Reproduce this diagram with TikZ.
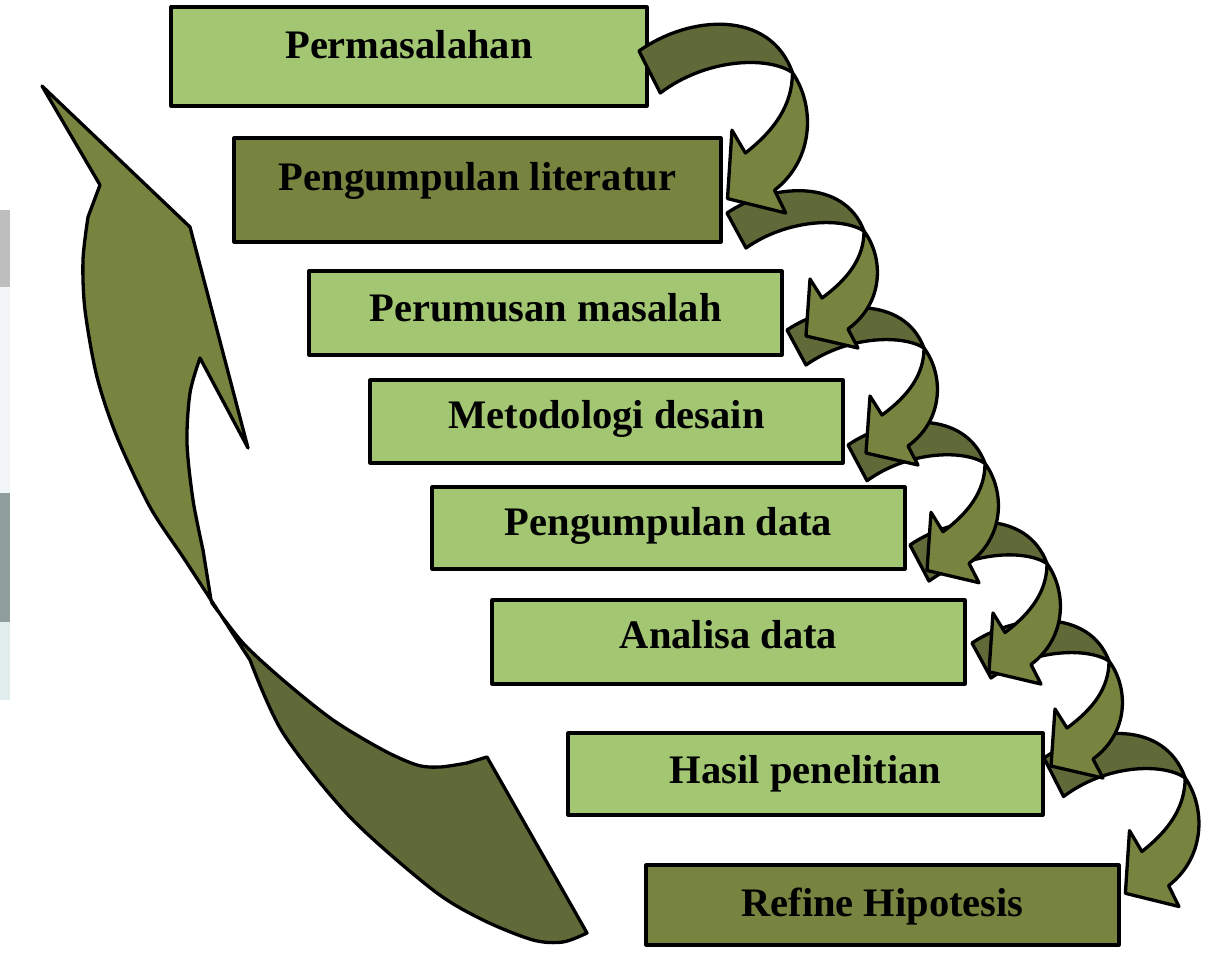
\documentclass[tikz,border=0pt]{standalone}
\usepackage{fontspec}
\setmainfont{Liberation Serif}
\definecolor{lightg}{HTML}{A3C673}
\definecolor{darkg}{HTML}{77843F}
\definecolor{frontg}{HTML}{77843F}
\definecolor{backg}{HTML}{5F6A38}
\definecolor{stripA}{HTML}{BEBEBE}
\definecolor{stripB}{HTML}{F2F6F7}
\definecolor{stripC}{HTML}{909F9D}
\definecolor{stripD}{HTML}{E2EEEE}
\newcommand\cvarrow{%
  \filldraw[back] (0,0) .. controls (45,-30) and (117,-35) .. (137,18)
     .. controls (115,4) and (60,6) .. (19,35) -- cycle;
  \filldraw[front] (137,18) .. controls (157,45) and (157,90) .. (121,116)
     -- (131,135) -- (79,123) -- (83,66) -- (95,85)
     .. controls (121,66) and (137,45) .. (137,18) -- cycle;
}
\begin{document}
\begin{tikzpicture}[x=1pt,y=-1pt,line join=round,
  box/.style={draw=black,line width=3.2pt,inner xsep=0pt,inner ysep=0pt,outer sep=0pt,
    anchor=north,font=\fontsize{40.5}{48}\selectfont\bfseries,text=black},
  front/.style={fill=frontg,draw=black,line width=3.3pt},
  back/.style={fill=backg,draw=black,line width=3.3pt}]
\useasboundingbox (0,0) rectangle (1229,953);
\fill[white] (0,0) rectangle (1229,953);
% left edge strips
\fill[stripA] (0,210) rectangle (10,287);
\fill[stripB] (0,287) rectangle (10,493);
\fill[stripC] (0,493) rectangle (10,622);
\fill[stripD] (0,622) rectangle (10,700);

% big return arrow
\filldraw[back] (211,600) -- plot[smooth,tension=0.5] coordinates
  {(250,660) (283,733) (350,817) (433,890) (483,920) (533,940) (563,942) (587,933)}
  -- (487,757) -- plot[smooth,tension=0.5] coordinates
  {(467,763) (440,767) (417,765) (383,750) (333,720) (283,680) (243,643) (212,603)} -- cycle;
\filldraw[front] (42,86) -- (100,185) -- plot[smooth,tension=0.5] coordinates
  {(88,217) (83,260) (85,310) (97,377) (117,437) (150,507) (183,557) (211,600)}
  -- plot[smooth,tension=0.5] coordinates
  {(203,550) (193,500) (187,443) (190,393) (200,358)}
  -- (248,448) -- (190,227) -- cycle;

% boxes
\node[box,fill=lightg,minimum width=476pt,text height=51pt,text depth=48pt] (b1) at (409,7) {Permasalahan};
\node[box,fill=darkg,minimum width=487pt,text height=52pt,text depth=52pt] (b2) at (477.5,138) {Pengumpulan literatur};
\node[box,fill=lightg,minimum width=473pt,text height=50pt,text depth=34pt] (b3) at (545.5,271) {Perumusan masalah};
\node[box,fill=lightg,minimum width=473pt,text height=48pt,text depth=35pt] (b4) at (606.5,380) {Metodologi desain};
\node[box,fill=lightg,minimum width=473pt,text height=48pt,text depth=34pt] (b5) at (668.5,487) {Pengumpulan data};
\node[box,fill=lightg,minimum width=473pt,text height=48pt,text depth=36pt] (b6) at (728.5,600) {Analisa data};
\node[box,fill=lightg,minimum width=475pt,text height=50pt,text depth=32pt] (b7) at (805.5,733) {Hasil penelitian};
\node[box,fill=darkg,minimum width=473pt,text height=51pt,text depth=29pt] (b8) at (882.5,865) {Refine Hipotesis};

% curved step arrows
\coordinate (o1) at ([shift={(-8,44)}]b1.north east);
\coordinate (o2) at ([shift={(6,75)}]b2.north east);
\coordinate (o3) at ([shift={(5,59)}]b3.north east);
\coordinate (o4) at ([shift={(5,65)}]b4.north east);
\coordinate (o5) at ([shift={(5,58)}]b5.north east);
\coordinate (o6) at ([shift={(7,43)}]b6.north east);
\coordinate (o7) at ([shift={(1,25)}]b7.north east);
\begin{scope}[shift={(o7)},xscale=1.03,yscale=1.1] \cvarrow \end{scope}
\begin{scope}[shift={(o6)}] \cvarrow \end{scope}
\begin{scope}[shift={(o5)},yscale=1.03] \cvarrow \end{scope}
\begin{scope}[shift={(o4)},yscale=1.02] \cvarrow \end{scope}
\begin{scope}[shift={(o3)}] \cvarrow \end{scope}
\begin{scope}[shift={(o2)}] \cvarrow \end{scope}
\begin{scope}[shift={(o1)},xscale=1.12,yscale=1.2] \cvarrow \end{scope}
\end{tikzpicture}
\end{document}
